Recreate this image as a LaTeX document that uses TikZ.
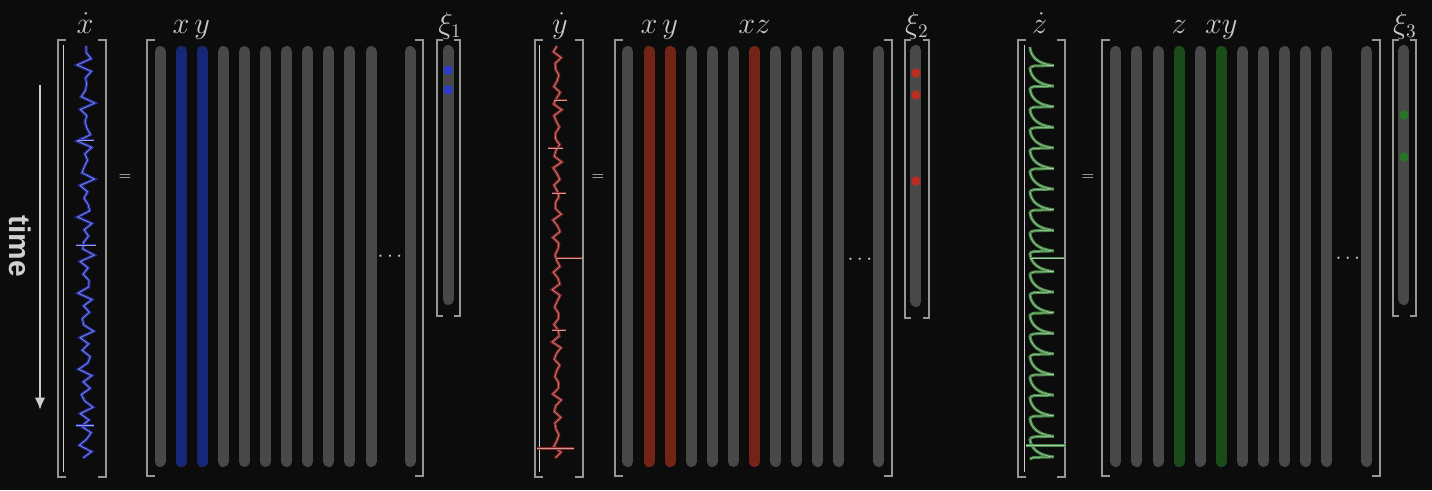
\documentclass[tikz,border=0pt]{standalone}
\usepackage{fontspec}
\setsansfont{Liberation Sans}
\usetikzlibrary{arrows.meta}

\definecolor{bgDark}{RGB}{12,12,12}
\definecolor{colGray}{RGB}{72,72,72}
\definecolor{brkGray}{RGB}{150,150,150}
\definecolor{txtGray}{RGB}{200,200,200}
\definecolor{termBlue}{RGB}{22,38,120}
\definecolor{termRed}{RGB}{116,36,20}
\definecolor{termGreen}{RGB}{26,76,26}
\definecolor{dotBlue}{RGB}{40,60,200}
\definecolor{dotRed}{RGB}{185,45,35}
\definecolor{dotGreen}{RGB}{40,115,40}
\definecolor{sigBlue}{RGB}{36,46,165}
\definecolor{sigRed}{RGB}{135,35,35}
\definecolor{sigGreen}{RGB}{70,140,70}

\begin{document}
\begin{tikzpicture}[x=0.02cm, y=-0.02cm,
   col/.style={draw=colGray, line width=0.22cm, line cap=round},
   brk/.style={draw=brkGray, line width=0.9pt},
   frame/.style={draw=brkGray!45, line width=0.5pt},
   lbl/.style={text=txtGray, font=\fontsize{16}{18}\selectfont, inner sep=0pt, anchor=base},
   eqsign/.style={text=txtGray!75, font=\fontsize{9}{10}\selectfont, inner sep=0pt},
   dotsym/.style={text=txtGray!85, font=\large, inner sep=0pt},
   coef/.style={circle, inner sep=0pt, minimum size=0.19cm},
   sig/.style={draw=#1!45!white, line width=0.3pt, line join=round,
               preaction={draw=#1, line width=1.7pt}},
   tarrow/.style={draw=txtGray!85, line width=1.6pt, -{Latex[length=7pt,width=6pt]}}]

  \fill[bgDark] (0,0) rectangle (1432,490);
  \useasboundingbox (0,0) rectangle (1432,490);

  % ===== axe du temps =====
  \coordinate (tstart) at (40,85);
  \coordinate (tend) at (40,410);
  \draw[tarrow] (tstart) -- (tend);
  \node[text=txtGray!85, font=\sffamily\bfseries\fontsize{17}{18}\selectfont, rotate=-90]
        (time) at (20,246) {time};

  % ===== xdot = Theta xi_1 =====
  \begin{scope}
    % derivee
    \draw[brk] (66,40) -| (58,477) -- (66,477);
    \draw[brk] (98,40) -| (106,477) -- (98,477);
    \draw[frame] (63,45) -- (63,472);
    \draw[sig=sigBlue] plot[domain=0:41.2, samples=66]
          ({86+6*sin(10*mod(33*\x,36))+3*sin(10*mod(71*\x,36))}, {46+10*\x});
    \draw[sig=sigBlue] (78,140) -- (94,140);
    \draw[sig=sigBlue] (76,245) -- (96,245);
    \draw[sig=sigBlue] (76,425) -- (94,425);
    \node[lbl] (xdot) at (85,33) {$\dot{x}$};
    \node[eqsign] (eq1) at (125,178) {$=$};
    % bibliotheque
    \draw[brk] (155,40) -| (147,476) -- (155,476);
    \draw[brk] (415,40) -| (423,476) -- (415,476);
    \foreach \k in {0,...,10}
      \draw[col] ({160+21.1*\k},51.5) -- ({160+21.1*\k},461.5);
    \draw[col] (410,51.5) -- (410,461.5);
    \draw[col, draw=termBlue] (181.1,51.5) -- (181.1,461.5);
    \draw[col, draw=termBlue] (202.2,51.5) -- (202.2,461.5);
    \node[lbl] (tx1) at (181.1,33) {$x$};
    \node[lbl] (ty1) at (202.2,33) {$y$};
    \node[dotsym] (dots1) at (390,257) {$\cdots$};
    % coefficients
    \draw[brk] (443,40) -| (437,316) -- (443,316);
    \draw[brk] (454,40) -| (460,316) -- (454,316);
    \draw[col] (448,50.5) -- (448,299.5);
    \node[coef, fill=dotBlue] (c1x) at (448,70) {};
    \node[coef, fill=dotBlue] (c1y) at (448,90) {};
    \node[lbl] (xi1) at (450,33) {$\xi_1$};
  \end{scope}

  % ===== ydot = Theta xi_2 =====
  \begin{scope}[xshift=9.36cm]
    % derivee
    \draw[brk] (75,40) -| (67,477) -- (75,477);
    \draw[brk] (107,40) -| (115,477) -- (107,477);
    \draw[frame] (72,45) -- (72,472);
    \draw[sig=sigRed] plot[domain=0:41.2, samples=72]
          ({89+3.5*sin(10*mod(41*\x,36))+1.5*sin(10*mod(97*\x,36))}, {46+10*\x});
    \draw[sig=sigRed] (86,100) -- (99,100);
    \draw[sig=sigRed] (80,148) -- (95,148);
    \draw[sig=sigRed] (84,193) -- (98,193);
    \draw[sig=sigRed] (89,258) -- (114,258);
    \draw[sig=sigRed] (84,330) -- (98,330);
    \draw[sig=sigRed] (69,448) -- (106,448);
    \node[lbl] (ydot) at (92,33) {$\dot{y}$};
    \node[eqsign] (eq2) at (130,178) {$=$};
    % bibliotheque
    \draw[brk] (155,40) -| (147,476) -- (155,476);
    \draw[brk] (416,40) -| (424,476) -- (416,476);
    \foreach \k in {0,...,10}
      \draw[col] ({160+21.1*\k},51.5) -- ({160+21.1*\k},461.5);
    \draw[col] (411,51.5) -- (411,461.5);
    \draw[col, draw=termRed] (181.1,51.5) -- (181.1,461.5);
    \draw[col, draw=termRed] (202.2,51.5) -- (202.2,461.5);
    \draw[col, draw=termRed] (286.6,51.5) -- (286.6,461.5);
    \node[lbl] (tx2) at (181.1,33) {$x$};
    \node[lbl] (ty2) at (202.2,33) {$y$};
    \node[lbl] (txz2) at (286.6,33) {$xz$};
    \node[dotsym] (dots2) at (392,260) {$\cdots$};
    % coefficients
    \draw[brk] (443,40) -| (437,318) -- (443,318);
    \draw[brk] (455,40) -| (461,318) -- (455,318);
    \draw[col] (448,50.5) -- (448,301.5);
    \node[coef, fill=dotRed] (c2x) at (448,73) {};
    \node[coef, fill=dotRed] (c2y) at (448,95) {};
    \node[coef, fill=dotRed] (c2xz) at (448,181) {};
    \node[lbl] (xi2) at (449,33) {$\xi_2$};
  \end{scope}

  % ===== zdot = Theta xi_3 =====
  \begin{scope}[xshift=19.12cm]
    % derivee
    \draw[brk] (70,40) -| (62,477) -- (70,477);
    \draw[brk] (101,40) -| (109,477) -- (101,477);
    \draw[frame] (69,45) -- (69,472);
    \foreach \ya in {47,67.6,...,440}
      \draw[sig=sigGreen] (74,\ya) .. controls (75,{\ya+10}) and (82,{\ya+17}) .. (98,{\ya+18.5})
            -- (78,{\ya+19}) -- (74,{\ya+20.6});
    \draw[sig=sigGreen] (74,258) -- (108,258);
    \draw[sig=sigGreen] (70,445) -- (110,445);
    \node[lbl] (zdot) at (84,33) {$\dot{z}$};
    \node[eqsign] (eq3) at (132,178) {$=$};
    % bibliotheque
    \draw[brk] (154,40) -| (146,476) -- (154,476);
    \draw[brk] (416,40) -| (424,476) -- (416,476);
    \foreach \k in {0,...,10}
      \draw[col] ({160+21.1*\k},51.5) -- ({160+21.1*\k},461.5);
    \draw[col] (411,51.5) -- (411,461.5);
    \draw[col, draw=termGreen] (223.3,51.5) -- (223.3,461.5);
    \draw[col, draw=termGreen] (265.5,51.5) -- (265.5,461.5);
    \node[lbl] (tz3) at (223.3,33) {$z$};
    \node[lbl] (txy3) at (265.5,33) {$xy$};
    \node[dotsym] (dots3) at (392,259) {$\cdots$};
    % coefficients
    \draw[brk] (443,40) -| (437,316) -- (443,316);
    \draw[brk] (454,40) -| (460,316) -- (454,316);
    \draw[col] (448,50.5) -- (448,299.5);
    \node[coef, fill=dotGreen] (c3z) at (448,115) {};
    \node[coef, fill=dotGreen] (c3xy) at (448,157) {};
    \node[lbl] (xi3) at (449,33) {$\xi_3$};
  \end{scope}

\end{tikzpicture}
\end{document}
